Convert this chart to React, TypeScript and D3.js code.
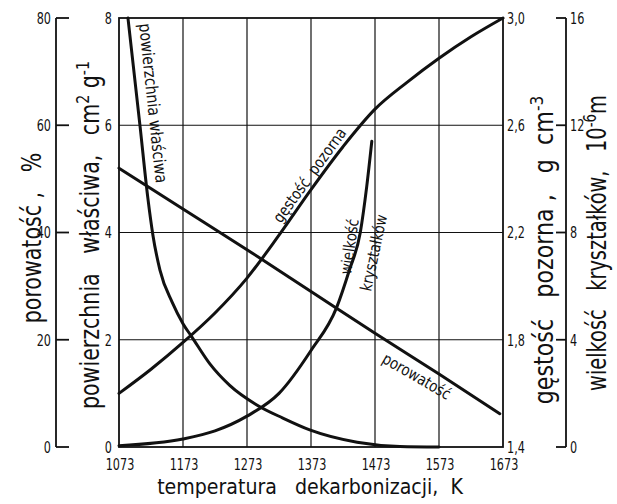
import React from "react";
import * as d3 from "d3";

// ---- data ----
const xTicks = [1073, 1173, 1273, 1373, 1473, 1573, 1673];
const powTicks = [0, 2, 4, 6, 8];
const porTicks = [0, 20, 40, 60, 80];
const gesTicks = [1.4, 1.8, 2.2, 2.6, 3.0];
const wieTicks = [0, 4, 8, 12, 16];

// powierzchnia właściwa, cm2/g
const powT = [1087, 1106, 1118, 1126, 1137, 1156, 1173, 1187, 1215, 1246, 1289, 1329, 1371, 1445, 1512, 1573];
const powV = [8.0, 5.97, 4.65, 3.95, 3.3, 2.7, 2.3, 2.05, 1.55, 1.15, 0.78, 0.54, 0.32, 0.09, 0.01, 0.0];

// porowatość, %
const porT = [1073, 1173, 1273, 1373, 1473, 1573, 1668];
const porV = [52, 44.4, 36.8, 29, 21.2, 13.6, 6.2];

// gęstość pozorna, g/cm3
const gesT = [1073, 1123, 1173, 1223, 1273, 1323, 1373, 1423, 1473, 1523, 1573, 1623, 1673];
const gesV = [1.6, 1.69, 1.79, 1.9, 2.03, 2.19, 2.36, 2.52, 2.66, 2.76, 2.85, 2.93, 3.0];

// wielkość kryształków, 1e-6 m
const wieT = [1073, 1173, 1223, 1273, 1323, 1373, 1413, 1433, 1450, 1460, 1468];
const wieV = [0.05, 0.3, 0.6, 1.15, 2.0, 3.6, 5.2, 6.6, 8.0, 9.7, 11.4];

const W = 617;
const H = 504;
const PL = 119, PR = 503, PT = 18, PB = 447;

const x = d3.scaleLinear().domain([1073, 1673]).range([PL, PR]);
const yPow = d3.scaleLinear().domain([0, 8]).range([PB, PT]);
const yPor = d3.scaleLinear().domain([0, 80]).range([PB, PT]);
const yGes = d3.scaleLinear().domain([1.4, 3.0]).range([PB, PT]);
const yWie = d3.scaleLinear().domain([0, 16]).range([PB, PT]);

function path(ts: number[], vs: number[], ys: d3.ScaleLinear<number, number>) {
  const pts: [number, number][] = ts.map((t, i) => [x(t), ys(vs[i])]);
  return d3.line().curve(d3.curveMonotoneX)(pts) || "";
}

const FONT = "'DejaVu Sans Condensed', 'DejaVu Sans', sans-serif";

type TProps = {
  x: number;
  y: number;
  rot?: number;
  sx?: number;
  size: number;
  anchor?: "start" | "middle" | "end";
  dy?: string;
  children: React.ReactNode;
};
function Txt({ x, y, rot = 0, sx = 1, size, anchor = "start", dy, children }: TProps) {
  return (
    <text
      transform={`translate(${x},${y}) rotate(${rot}) scale(${sx},1)`}
      textAnchor={anchor}
      dy={dy}
      fontFamily={FONT}
      fontSize={size}
      fill="#111"
      style={{ whiteSpace: "pre" }}
    >
      {children}
    </text>
  );
}

const NSX = 0.78; // narrow digits
const NS = 16;

export default function App() {
  const fmt = (v: number) => v.toFixed(1).replace(".", ",");
  return (
    <svg
      width={W}
      height={H}
      viewBox={`0 0 ${W} ${H}`}
      style={{ position: "absolute", left: 0, top: 0, background: "#fff" }}
    >
      <rect x={0} y={0} width={W} height={H} fill="#fff" />
      {/* grid */}
      <g stroke="#111" strokeWidth={1.2}>
        {xTicks.slice(1, -1).map((t) => (
          <line key={"gx" + t} x1={x(t)} x2={x(t)} y1={PT} y2={PB} />
        ))}
        {powTicks.slice(1, -1).map((v) => (
          <line key={"gy" + v} x1={PL} x2={PR} y1={yPow(v)} y2={yPow(v)} />
        ))}
      </g>
      {/* frame */}
      <rect x={PL} y={PT} width={PR - PL} height={PB - PT} fill="none" stroke="#111" strokeWidth={1.8} />

      {/* curves */}
      <g fill="none" stroke="#111" strokeWidth={3} strokeLinecap="round" strokeLinejoin="round">
        <path d={path(powT, powV, yPow)} />
        <path d={path(porT, porV, yPor)} />
        <path d={path(gesT, gesV, yGes)} />
        <path d={path(wieT, wieV, yWie)} />
      </g>

      {/* left outer axis: porowatość */}
      <line x1={56} x2={56} y1={PT} y2={PB} stroke="#111" strokeWidth={1.8} />
      {porTicks.map((v) => (
        <g key={"por" + v}>
          <line x1={56} x2={69} y1={yPor(v)} y2={yPor(v)} stroke="#111" strokeWidth={1.8} />
          <Txt x={51} y={yPor(v)} dy="0.36em" anchor="end" size={NS} sx={NSX}>
            {String(v)}
          </Txt>
        </g>
      ))}
      {/* inner left axis labels: powierzchnia */}
      {powTicks.map((v) => (
        <Txt key={"pow" + v} x={112} y={yPow(v)} dy="0.36em" anchor="end" size={NS} sx={NSX}>
          {String(v)}
        </Txt>
      ))}
      {/* right axis: gęstość */}
      {gesTicks.map((v) => (
        <Txt key={"ges" + v} x={507} y={yGes(v)} dy="0.36em" size={NS} sx={NSX}>
          {fmt(v)}
        </Txt>
      ))}
      {/* outer right axis: wielkość */}
      <line x1={566} x2={566} y1={PT} y2={PB} stroke="#111" strokeWidth={1.8} />
      {wieTicks.map((v) => (
        <g key={"wie" + v}>
          <line x1={556} x2={566} y1={yWie(v)} y2={yWie(v)} stroke="#111" strokeWidth={1.8} />
          <Txt x={570} y={yWie(v)} dy="0.36em" size={NS} sx={NSX}>
            {String(v)}
          </Txt>
        </g>
      ))}
      {/* x tick labels */}
      {xTicks.map((t) => (
        <Txt key={"xt" + t} x={x(t) + 1} y={470} anchor="middle" size={NS} sx={NSX}>
          {String(t)}
        </Txt>
      ))}
      <Txt x={310} y={494} anchor="middle" size={22} sx={0.96}>
        {"temperatura   dekarbonizacji,  K"}
      </Txt>

      {/* axis titles */}
      <Txt x={41} y={238} rot={-90} sx={0.88} size={26} anchor="middle">
        {"porowatość ,   %"}
      </Txt>
      <Txt x={99} y={235} rot={-90} sx={0.88} size={26} anchor="middle">
        {"powierzchnia   właściwa,   cm"}
        <tspan dy={-10} fontSize={18}>2</tspan>
        <tspan dy={10}>{" g"}</tspan>
        <tspan dy={-10} fontSize={18}>-1</tspan>
      </Txt>
      <Txt x={553} y={250} rot={-90} sx={0.95} size={26} anchor="middle">
        {"gęstość   pozorna ,   g  cm"}
        <tspan dy={-10} fontSize={18}>-3</tspan>
      </Txt>
      <Txt x={606} y={243} rot={-90} sx={0.83} size={26} anchor="middle">
        {"wielkość   kryształków,   10"}
        <tspan dy={-10} fontSize={18}>-6</tspan>
        <tspan dy={10}>m</tspan>
      </Txt>

      {/* curve labels */}
      <Txt x={139} y={24} rot={84} size={17} sx={0.92}>
        powierzchnia właściwa
      </Txt>
      <Txt x={281} y={224} rot={-54} size={16} sx={0.92}>
        {"gęstość  pozorna"}
      </Txt>
      <Txt x={351} y={275} rot={-82} size={16} sx={0.92}>
        wielkość
      </Txt>
      <Txt x={371} y={292} rot={-78} size={16} sx={0.92}>
        kryształków
      </Txt>
      <Txt x={381} y={362} rot={30} size={16} sx={0.92}>
        porowatość
      </Txt>
    </svg>
  );
}
